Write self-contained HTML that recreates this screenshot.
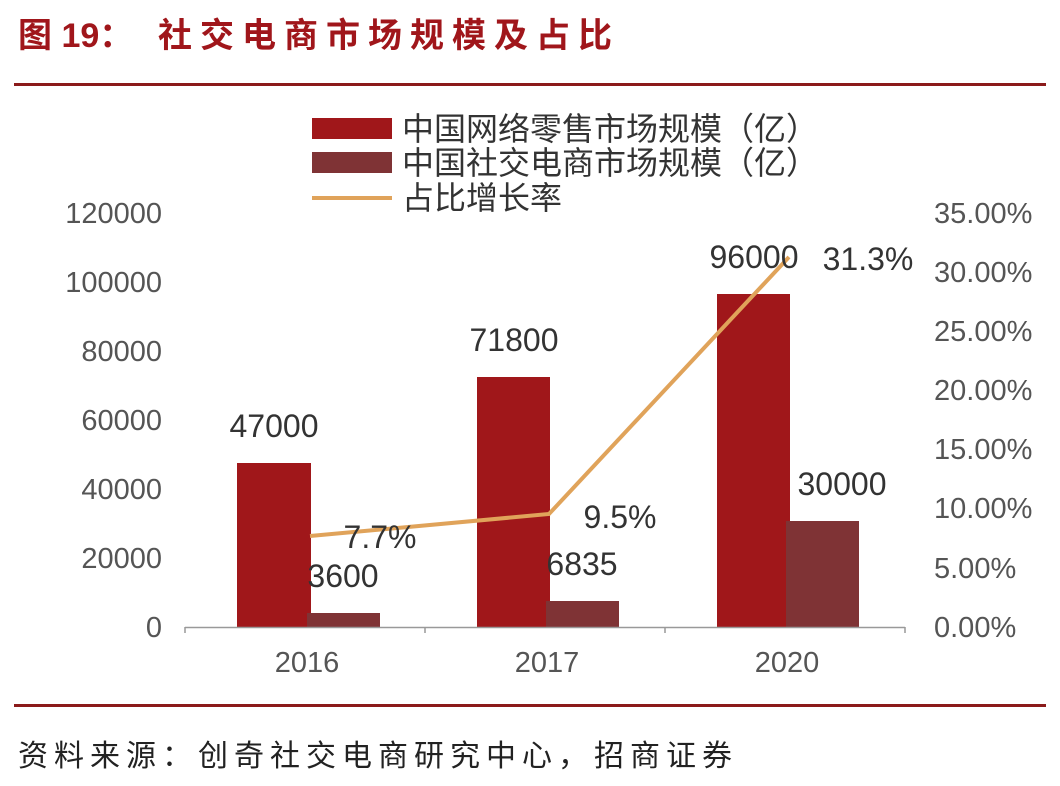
<!DOCTYPE html>
<html><head><meta charset="utf-8"><style>
body{margin:0;background:#fff;}
svg{display:block;}
text{font-family:"Liberation Sans","Noto Sans CJK SC",sans-serif;}
</style></head><body>
<svg width="1060" height="786" viewBox="0 0 1060 786">
<rect width="1060" height="786" fill="#fff"/>
<g font-size="34" font-weight="bold" fill="#a0161b" font-family="'Liberation Sans','Noto Serif CJK SC',serif">
<text x="18" y="47">图 19：</text>
<text x="158" y="47" letter-spacing="8">社交电商市场规模及占比</text>
</g>
<rect x="14" y="83" width="1032" height="3" fill="#8b1a1a"/>
<rect x="14" y="704" width="1032" height="3" fill="#8b1a1a"/>
<text x="18" y="766" font-size="30" fill="#222" letter-spacing="6" font-family="'Noto Serif CJK SC',serif">资料来源：创奇社交电商研究中心，招商证券</text>
<rect x="312" y="118" width="80" height="21" fill="#a0171a"/>
<text x="402" y="140" font-size="32" fill="#333">中国网络零售市场规模（亿）</text>
<rect x="312" y="152" width="80" height="21" fill="#7f3335"/>
<text x="402" y="174" font-size="32" fill="#333">中国社交电商市场规模（亿）</text>
<rect x="312" y="196" width="80" height="4" fill="#e0a35a"/>
<text x="402" y="209" font-size="32" fill="#333">占比增长率</text>
<g font-size="29" fill="#555" text-anchor="end">
<text x="162" y="223">120000</text>
<text x="162" y="292">100000</text>
<text x="162" y="361">80000</text>
<text x="162" y="430">60000</text>
<text x="162" y="499">40000</text>
<text x="162" y="568">20000</text>
<text x="162" y="637">0</text>
</g>
<g font-size="29" fill="#555" text-anchor="start">
<text x="934" y="223">35.00%</text>
<text x="934" y="282">30.00%</text>
<text x="934" y="341">25.00%</text>
<text x="934" y="400">20.00%</text>
<text x="934" y="459">15.00%</text>
<text x="934" y="518">10.00%</text>
<text x="934" y="578">5.00%</text>
<text x="934" y="637">0.00%</text>
</g>
<rect x="237" y="463" width="74" height="164" fill="#a0171a"/>
<rect x="307" y="613" width="73" height="14" fill="#7f3335"/>
<rect x="477" y="377" width="73" height="250" fill="#a0171a"/>
<rect x="546" y="601" width="73" height="26" fill="#7f3335"/>
<rect x="717" y="294" width="73" height="333" fill="#a0171a"/>
<rect x="786" y="521" width="73" height="106" fill="#7f3335"/>
<line x1="185" y1="627.5" x2="905" y2="627.5" stroke="#999" stroke-width="1.5"/>
<g stroke="#999" stroke-width="1.5"><line x1="185" y1="627" x2="185" y2="633"/><line x1="425" y1="627" x2="425" y2="633"/><line x1="665" y1="627" x2="665" y2="633"/><line x1="905" y1="627" x2="905" y2="633"/></g>
<polyline points="310,536 549,514 789,257" fill="none" stroke="#e0a35a" stroke-width="4"/>
<g font-size="29" fill="#555" text-anchor="middle">
<text x="307" y="672">2016</text><text x="547" y="672">2017</text><text x="787" y="672">2020</text>
</g>
<g font-size="32" fill="#333" text-anchor="middle">
<text x="274" y="437">47000</text>
<text x="343" y="587">3600</text>
<text x="380" y="548">7.7%</text>
<text x="514" y="351">71800</text>
<text x="582" y="575">6835</text>
<text x="620" y="528">9.5%</text>
<text x="754" y="268">96000</text>
<text x="868" y="270">31.3%</text>
<text x="842" y="495">30000</text>
</g>
</svg>
</body></html>
